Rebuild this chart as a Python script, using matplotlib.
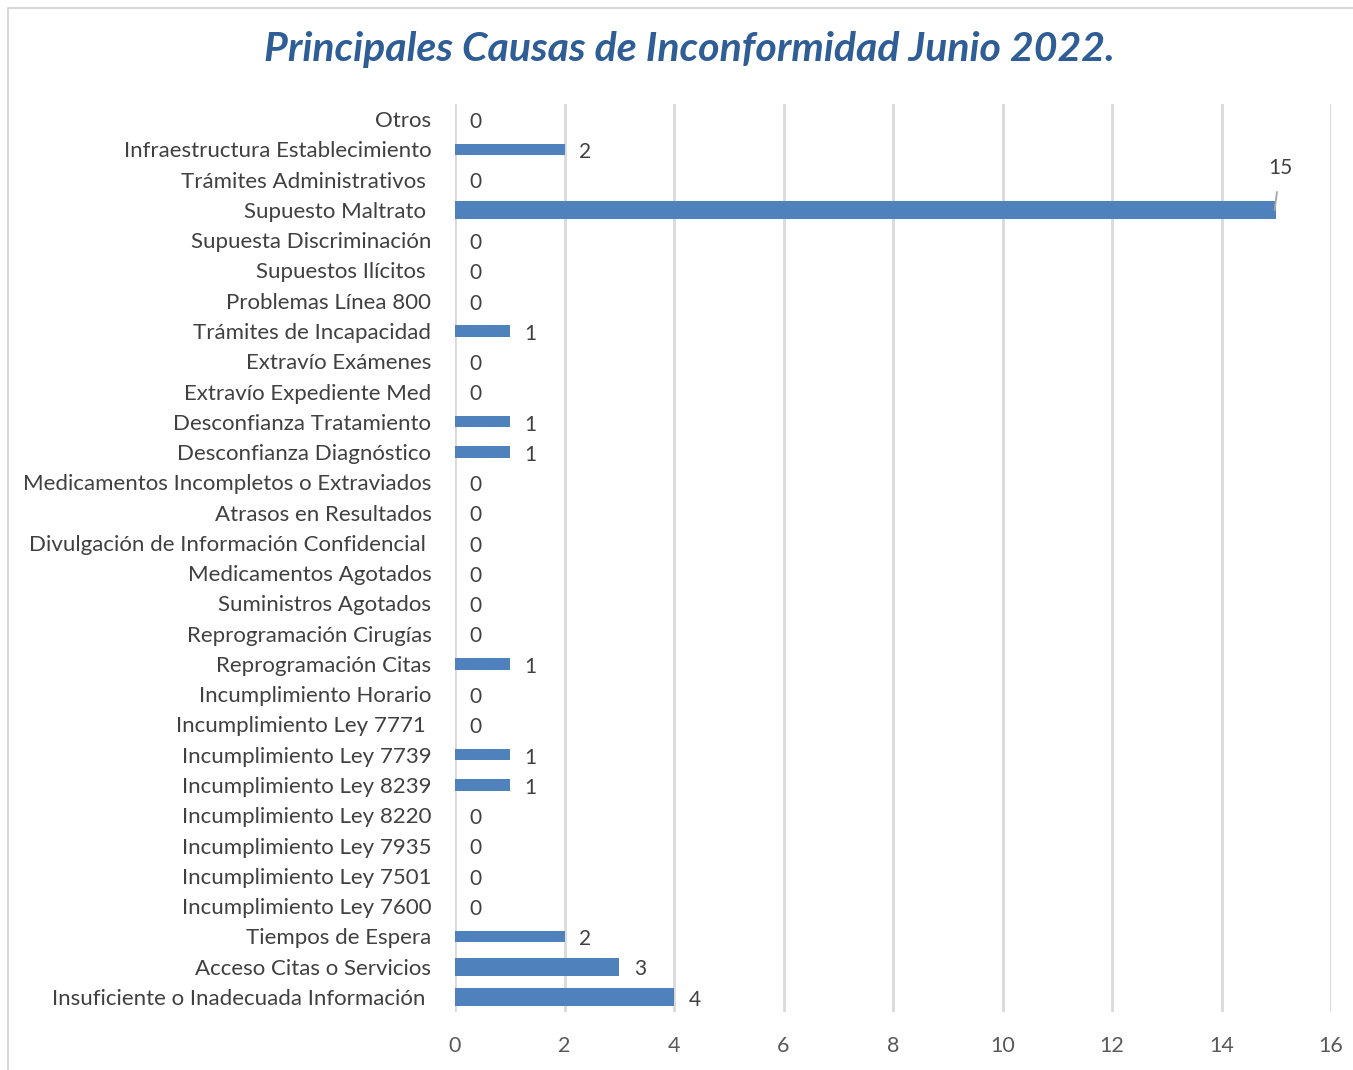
import matplotlib.pyplot as plt
from matplotlib.patches import Rectangle

# Categories listed top to bottom as in the chart
causas = [
    "Otros",
    "Infraestructura Establecimiento",
    "Trámites Administrativos ",
    "Supuesto Maltrato ",
    "Supuesta Discriminación",
    "Supuestos Ilícitos ",
    "Problemas Línea 800",
    "Trámites de Incapacidad",
    "Extravío Exámenes",
    "Extravío Expediente Med",
    "Desconfianza Tratamiento",
    "Desconfianza Diagnóstico",
    "Medicamentos Incompletos o Extraviados",
    "Atrasos en Resultados",
    "Divulgación de Información Confidencial ",
    "Medicamentos Agotados",
    "Suministros Agotados",
    "Reprogramación Cirugías",
    "Reprogramación Citas",
    "Incumplimiento Horario",
    "Incumplimiento Ley 7771 ",
    "Incumplimiento Ley 7739",
    "Incumplimiento Ley 8239",
    "Incumplimiento Ley 8220",
    "Incumplimiento Ley 7935",
    "Incumplimiento Ley 7501",
    "Incumplimiento Ley 7600",
    "Tiempos de Espera",
    "Acceso Citas o Servicios",
    "Insuficiente o Inadecuada Información ",
]
casos = [0, 2, 0, 15, 0, 0, 0, 1, 0, 0, 1, 1, 0, 0, 0,
         0, 0, 0, 1, 0, 0, 1, 1, 0, 0, 0, 0, 2, 3, 4]
x_ticks = [0, 2, 4, 6, 8, 10, 12, 14, 16]

plt.rcParams['font.family'] = ['Lato', 'DejaVu Sans']

fig = plt.figure(figsize=(13.53, 10.70), dpi=100)
ax = fig.add_axes([455 / 1353, 1 - 1012 / 1070, (1331 - 455) / 1353, (1012 - 104) / 1070])

# chart area border (only top and left edges visible in the original)
fig.patches.append(Rectangle((8 / 1353, -0.1), 1.2, 1 - 8 / 1070 + 0.1,
                             transform=fig.transFigure, fill=False,
                             edgecolor='#D0D0D0', linewidth=1.2))

pos = list(range(len(causas)))
heights = [0.6 if v >= 3 else 0.37 for v in casos]
ax.barh(pos, casos, height=heights, color='#4F81BD', zorder=3)

for p, v in zip(pos, casos):
    if v == 15:
        ax.annotate(str(v), xy=(v - 0.03, p), xytext=(v + 0.07, p - 1.38),
                    ha='center', va='center', fontsize=15, color='#404040',
                    arrowprops=dict(arrowstyle='-', color='#A6A6A6', lw=1.3,
                                    shrinkA=8, shrinkB=0))
    else:
        ax.annotate(str(v), xy=(v, p), xytext=(15, -2), textcoords='offset points',
                    ha='center', va='center', fontsize=15, color='#404040')

ax.set_ylim(len(causas) - 0.5, -0.5)
ax.set_xlim(0, 16)
ax.set_yticks(pos)
ax.set_yticklabels(causas, fontsize=16, color='#404040')
ax.set_xticks(x_ticks)
ax.set_xticklabels([str(t) for t in x_ticks], fontsize=15.5, color='#595959')
ax.tick_params(axis='y', length=0, pad=17)
ax.tick_params(axis='x', length=0, pad=17)

ax.grid(axis='x', color='#D9D9D9', linewidth=2, zorder=0)
ax.grid(axis='y', visible=False)
ax.set_axisbelow(True)
for s in ax.spines.values():
    s.set_visible(False)

fig.text(689 / 1353, 1 - 50 / 1070, "Principales Causas de Inconformidad Junio 2022.",
         ha='center', va='center', fontsize=29.5, fontweight='bold', fontstyle='italic',
         color='#2F5D95')

fig.savefig("out.png", dpi=100)
